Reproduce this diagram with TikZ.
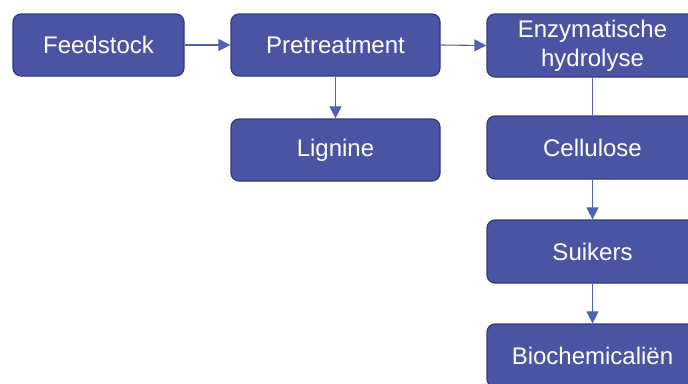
\documentclass[tikz,border=0pt]{standalone}
\usepackage{fontspec}
\setmainfont{Liberation Sans}
\usetikzlibrary{arrows.meta}
\definecolor{boxfill}{HTML}{4A54A3}
\definecolor{boxline}{HTML}{2F3A7E}
\definecolor{conn}{HTML}{5361B3}
\begin{document}
\begin{tikzpicture}[x=1pt,y=-1pt,
  box/.style={draw=boxline, line width=1.2pt, fill=boxfill, rounded corners=8pt,
    text=white, font=\fontsize{24}{29}\selectfont, align=center, inner sep=0pt,
    minimum height=62pt},
  conn/.style={draw=conn, line width=1.1pt},
  arr/.style={conn, -{Triangle[width=12pt,length=12pt]}}]
\useasboundingbox (0,0) rectangle (688,383);
\node[box, minimum width=171pt] (feed) at (98.5,45) {Feedstock};
\node[box, minimum width=209pt] (pre) at (335.5,45) {Pretreatment};
\node[box, minimum width=211pt, minimum height=63pt] (enz) at (592.5,45.5) {Enzymatische\\hydrolyse};
\node[box, minimum width=209pt] (lig) at (335.5,150) {Lignine};
\node[box, minimum width=211pt, minimum height=63pt] (cel) at (592.5,147.5) {Cellulose};
\node[box, minimum width=211pt, minimum height=63pt] (sui) at (592.5,251.5) {Suikers};
\node[box, minimum width=211pt, minimum height=63pt] (bio) at (592.5,355.5) {Biochemicaliën};
\draw[arr] (feed.east) -- (pre.west);
\draw[arr] (pre.east) -- (enz.west);
\draw[arr] (pre.south) -- (lig.north);
\draw[conn] (enz.south) -- (cel.north);
\draw[arr] (cel.south) -- (sui.north);
\draw[arr] (sui.south) -- (bio.north);
\end{tikzpicture}
\end{document}
